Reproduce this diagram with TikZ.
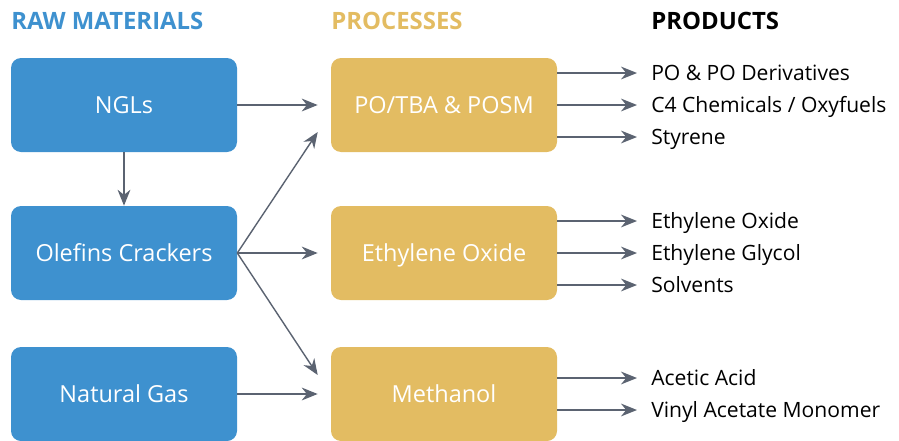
\documentclass[tikz,border=0pt]{standalone}
\usepackage{fontspec}
\setmainfont{Open Sans}
\usepackage{xcolor}
\usetikzlibrary{arrows.meta, positioning, calc}

\definecolor{rawblue}{HTML}{3E91CF}
\definecolor{procgold}{HTML}{E3BC62}
\definecolor{linkgray}{HTML}{5B6371}

\begin{document}
\begin{tikzpicture}
    \tikzstyle{raw} = [rectangle, rounded corners=0.25cm, minimum width=5.65cm, minimum height=2.35cm, text centered, text height=11.9pt, text depth=0pt, fill=rawblue, text=white, font=\fontsize{16.7}{20}\selectfont]
    \tikzstyle{process} = [rectangle, rounded corners=0.25cm, minimum width=5.65cm, minimum height=2.35cm, text centered, text height=11.9pt, text depth=0pt, fill=procgold, text=white, font=\fontsize{16.7}{20}\selectfont]
    \tikzstyle{product} = [anchor=west, inner sep=0pt, text height=10.7pt, text depth=0pt, font=\fontsize{15}{18}\selectfont]
    \tikzstyle{header} = [anchor=west, inner sep=0pt, text height=12.1pt, text depth=0pt, font=\bfseries\fontsize{17}{20}\selectfont]
    \tikzstyle{arrow} = [line width=1pt, draw=linkgray, ->, >={Stealth[length=4mm, width=3.2mm]}]

    \useasboundingbox (0,0) rectangle (22.475,-11.025);

    % column titles
    \node[header, text=rawblue] (hraw) at (0.275,-0.525) {RAW MATERIALS};
    \node[header, text=procgold] (hproc) at (8.275,-0.525) {PROCESSES};
    \node[header] (hprod) at (16.275,-0.525) {PRODUCTS};

    % raw materials
    \node[raw] (ngl) at (3.1,-2.625) {NGLs};
    \node[raw] (olefins) at (3.1,-6.325) {Olefins Crackers};
    \node[raw] (gas) at (3.1,-9.85) {Natural Gas};

    % processes
    \node[process] (po) at (11.1,-2.625) {PO/TBA \& POSM};
    \node[process] (eo) at (11.1,-6.325) {Ethylene Oxide};
    \node[process] (meoh) at (11.1,-9.85) {Methanol};

    % products
    \node[product] (podv) at (16.275,-1.825) {PO \& PO Derivatives};
    \node[product] (cfour) at (16.275,-2.625) {C4 Chemicals / Oxyfuels};
    \node[product] (styr) at (16.275,-3.425) {Styrene};
    \node[product] (eox) at (16.275,-5.525) {Ethylene Oxide};
    \node[product] (eg) at (16.275,-6.325) {Ethylene Glycol};
    \node[product] (solv) at (16.275,-7.125) {Solvents};
    \node[product] (acet) at (16.275,-9.45) {Acetic Acid};
    \node[product] (vam) at (16.275,-10.25) {Vinyl Acetate Monomer};

    % feeds into processes
    \draw[arrow] (ngl) -- (ngl |- olefins.north);
    \draw[arrow] (ngl.east) -- ([xshift=-0.325cm]po.west);
    \draw[arrow] (olefins.east) -- ([shift={(-0.325,-0.675)}]po.west);
    \draw[arrow] (olefins.east) -- ([xshift=-0.325cm]eo.west);
    \draw[arrow] (olefins.east) -- ([shift={(-0.325,0.475)}]meoh.west);
    \draw[arrow] (gas.east) -- ([xshift=-0.325cm]meoh.west);

    % processes to products
    \foreach \src/\dst in {po/podv, po/cfour, po/styr, eo/eox, eo/eg, eo/solv, meoh/acet, meoh/vam}
        \draw[arrow, shorten >=0.35cm] (\src.east |- \dst.west) -- (\dst.west);
\end{tikzpicture}
\end{document}
